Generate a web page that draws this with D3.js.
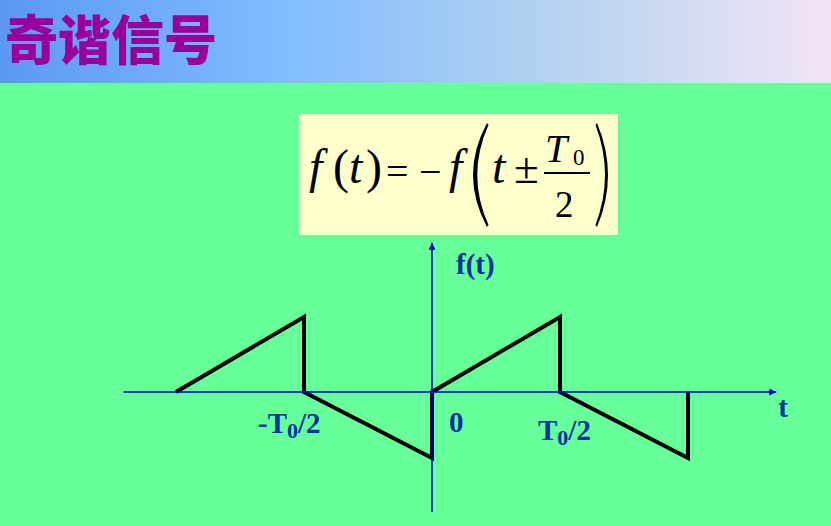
<!DOCTYPE html>
<html><head><meta charset="utf-8">
<script src="https://cdn.jsdelivr.net/npm/d3@7/dist/d3.min.js"></script>
<style>html,body{margin:0;padding:0;background:#66FF99;}svg{display:block;}</style>
</head><body><svg id="c" width="831" height="526"></svg>
<script>
// ---- data ----
const titleText = "奇谐信号";
// waveform vertices: t in units of T0/2, f in units of peak amplitude
const waveT = [-2, -1, -1, 0, 0, 1, 1, 2, 2];
const waveF = [0, 1, 0, -0.88, 0, 1, 0, -0.88, 0];
// tick labels: position (T0/2 units), main text, subscript, tail
const tickPos = [-1, 0, 1];
const tickMain = ["-T", "0", "T"];
const tickSub = ["0", "", "0"];
const tickTail = ["/2", "", "/2"];
const xAxisExtent = [-2.41, 2.69];
const yAxisExtent = [-1.6, 1.99];

const svg = d3.select("#c");
const W = 831, H = 526;

// header gradient
const defs = svg.append("defs");
const g = defs.append("linearGradient").attr("id", "hdr").attr("x1", 0).attr("x2", 1).attr("y1", 0).attr("y2", 0);
[[0, "#5c98f2"], [0.34, "#80bcff"], [0.67, "#b5d3ef"], [1, "#f3e4f5"]].forEach(([o, c]) =>
  g.append("stop").attr("offset", o).attr("stop-color", c));
svg.append("rect").attr("x", 0).attr("y", 0).attr("width", W).attr("height", 83).attr("fill", "url(#hdr)");
svg.append("rect").attr("x", 0).attr("y", 83).attr("width", W).attr("height", H - 83).attr("fill", "#66FF99");

svg.append("text").attr("x", 5).attr("y", 37).attr("dominant-baseline", "central")
  .attr("font-family", "'Noto Sans CJK SC'").attr("font-weight", 900).attr("font-size", 53)
  .attr("fill", "#990099").text(titleText);

// formula box
svg.append("rect").attr("x", 299).attr("y", 114).attr("width", 319).attr("height", 121).attr("fill", "#FFFFCC");
const F = svg.append("g").attr("font-family", "'Liberation Serif','Times New Roman',serif").attr("fill", "#000");
const base = 183;
// left part: f(t)
const lt = F.append("text").attr("y", base).attr("font-size", 48);
[[309, "f", true], [333, "(", false], [349, "t", true], [366, ")", false]].forEach(([px, s, it]) =>
  lt.append("tspan").attr("x", px).attr("font-style", it ? "italic" : "normal").text(s));
// = −
const eq = F.append("text").attr("y", 185).attr("font-size", 40);
eq.append("tspan").attr("x", 386).text("=");
eq.append("tspan").attr("x", 419).text("\u2212");
F.append("text").attr("x", 449).attr("y", base).attr("font-size", 48).attr("font-style", "italic").text("f");
// inside parens: t ±
const mt = F.append("text").attr("y", base).attr("font-size", 48);
mt.append("tspan").attr("x", 492).attr("font-style", "italic").text("t");
mt.append("tspan").attr("x", 514).attr("font-size", 45).text("\u00B1");
// numerator T0
const nt = F.append("text").attr("y", 162).attr("font-size", 40);
nt.append("tspan").attr("x", 545).attr("font-style", "italic").text("T");
nt.append("tspan").attr("x", 573).attr("dy", 3).attr("font-size", 23).text("0");
F.append("text").attr("x", 555).attr("y", 217).attr("font-size", 37).text("2");
F.append("rect").attr("x", 544).attr("y", 172).attr("width", 46).attr("height", 2).attr("fill", "#000");
F.append("path").attr("d", "M487,123 Q459,175 487,227 L488.5,225 Q466,175 488.5,125 Z");
F.append("path").attr("d", "M597,123 Q619,175 597,227 L595.5,225 Q614.5,175 595.5,125 Z");

// chart
const x = d3.scaleLinear().domain([-2, 2]).range([176, 688]);
const y = d3.scaleLinear().domain([0, 1]).range([392, 317]);
const axisColor = "#0000CC";
defs.append("marker").attr("id", "arr").attr("viewBox", "0 0 10 10").attr("refX", 10).attr("refY", 5)
  .attr("markerWidth", 7).attr("markerHeight", 7).attr("markerUnits", "userSpaceOnUse").attr("orient", "auto")
  .append("path").attr("d", "M0,0 L10,5 L0,10 Z").attr("fill", axisColor);

const wave = waveT.map((t, i) => [t, waveF[i]]);
svg.append("path").datum(wave)
  .attr("d", d3.line().x(d => x(d[0])).y(d => y(d[1])))
  .attr("fill", "none").attr("stroke", "#000").attr("stroke-width", 4).attr("stroke-linejoin", "miter");

svg.append("line").attr("x1", x(xAxisExtent[0])).attr("x2", x(xAxisExtent[1])).attr("y1", y(0)).attr("y2", y(0))
  .attr("stroke", axisColor).attr("stroke-width", 1.5).attr("marker-end", "url(#arr)");
svg.append("line").attr("x1", x(0)).attr("x2", x(0)).attr("y1", y(yAxisExtent[0])).attr("y2", y(yAxisExtent[1]))
  .attr("stroke", axisColor).attr("stroke-width", 1.5).attr("marker-end", "url(#arr)");

const L = svg.append("g").attr("font-family", "'Liberation Serif','Times New Roman',serif")
  .attr("font-weight", "bold").attr("fill", "#0033A0");
const tickDx = [-46, 17, -22];
const tickY = [433, 432, 440];
tickPos.forEach((p, i) => {
  const t = L.append("text").attr("x", x(p) + tickDx[i]).attr("y", tickY[i]).attr("font-size", 29);
  t.append("tspan").text(tickMain[i]);
  if (tickSub[i]) t.append("tspan").attr("font-size", 22).attr("dy", 5).text(tickSub[i]);
  if (tickTail[i]) t.append("tspan").attr("dy", -5).text(tickTail[i]);
});
L.append("text").attr("x", x(0) + 24).attr("y", 274).attr("font-size", 29).text("f(t)");
L.append("text").attr("x", x(xAxisExtent[1]) + 2).attr("y", 417).attr("font-size", 29).text("t");
</script></body></html>
